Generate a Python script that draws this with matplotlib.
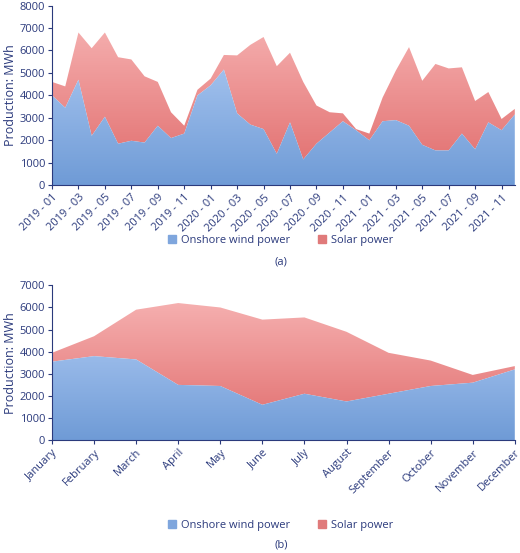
import matplotlib
matplotlib.use("Agg")
import matplotlib.pyplot as plt
import numpy as np
from matplotlib.patches import Patch

plt.rcParams['font.family'] = ['Open Sans', 'DejaVu Sans']
cor_txt = '#2b3a7c'

# dados mensais 2019-2021
meses = [f"{a} - {m:02d}" for a in (2019, 2020, 2021) for m in range(1, 13)]
eolica = [4000, 3450, 4700, 2200, 3050, 1850, 1980, 1900, 2650, 2100, 2300, 4000,
          4450, 5150, 3200, 2700, 2500, 1400, 2800, 1150, 1850, 2350, 2850, 2450,
          2000, 2850, 2900, 2650, 1800, 1550, 1550, 2300, 1600, 2800, 2450, 3150]
total = [4600, 4400, 6800, 6100, 6800, 5700, 5600, 4850, 4600, 3250, 2650, 4250,
         4750, 5800, 5780, 6250, 6600, 5300, 5900, 4600, 3550, 3250, 3200, 2500,
         2300, 3900, 5100, 6150, 4650, 5400, 5200, 5250, 3750, 4150, 2950, 3400]
solar = [t - e for t, e in zip(total, eolica)]

# médias por mês
nomes_mes = ['January', 'February', 'March', 'April', 'May', 'June', 'July',
             'August', 'September', 'October', 'November', 'December']
eolica_media = [3550, 3800, 3650, 2500, 2450, 1600, 2100, 1750, 2100, 2450, 2600, 3200]
total_media = [3950, 4700, 5900, 6200, 6000, 5450, 5550, 4900, 3950, 3600, 2950, 3350]
solar_media = [t - e for t, e in zip(total_media, eolica_media)]


def area_gradiente(ax, x, y0, y1, c_topo, c_base, ymax):
    poly = ax.fill_between(x, y0, y1, color='none', lw=0)
    grad = np.linspace(1, 0, 256).reshape(-1, 1)
    cmap = matplotlib.colors.LinearSegmentedColormap.from_list('g', [c_base, c_topo])
    im = ax.imshow(grad, cmap=cmap, aspect='auto', extent=[x[0], x[-1], 0, ymax],
                   origin='upper', zorder=1)
    im.set_clip_path(poly.get_paths()[0], transform=ax.transData)


def desenha(ax, rotulos, e, s, ymax, passo, y_leg):
    x = np.arange(len(rotulos))
    e = np.array(e)
    t = e + np.array(s)
    area_gradiente(ax, x, e, t, '#f8b8b8', '#e06a6a', ymax)
    area_gradiente(ax, x, 0, e, '#bcd5fa', '#6f9bd6', ymax)
    ax.set_xlim(0, len(x) - 1)
    ax.set_ylim(0, ymax)
    ax.set_yticks(range(0, ymax + 1, 1000))
    ax.set_xticks(x[::passo])
    ax.set_xticklabels(rotulos[::passo], rotation=45, ha='right', rotation_mode='anchor')
    ax.set_ylabel('Production: MWh', color=cor_txt, fontsize=9, labelpad=2)
    ax.tick_params(colors=cor_txt, labelsize=8, length=3, pad=2)
    for lado in ('top', 'right'):
        ax.spines[lado].set_visible(False)
    for lado in ('left', 'bottom'):
        ax.spines[lado].set_color(cor_txt)
    fig.legend(handles=[Patch(color='#7fa6dd', label='Onshore wind power'),
                        Patch(color='#e07a7a', label='Solar power')],
               loc='center', bbox_to_anchor=(0.54, y_leg),
               ncol=2, frameon=False, fontsize=8, handlelength=0.7, handleheight=0.7,
               handletextpad=0.5, labelcolor=cor_txt, columnspacing=2.5)


fig = plt.figure(figsize=(5.2, 5.53), dpi=100)
ax1 = fig.add_axes([0.1, 0.665, 0.89, 0.325])
ax2 = fig.add_axes([0.1, 0.204, 0.89, 0.28])
desenha(ax1, meses, eolica, solar, 8000, 2, 0.565)
desenha(ax2, nomes_mes, eolica_media, solar_media, 7000, 1, 0.05)
fig.text(0.54, 0.526, '(a)', ha='center', va='center', color=cor_txt, fontsize=8)
fig.text(0.54, 0.015, '(b)', ha='center', va='center', color=cor_txt, fontsize=8)
fig.savefig('out.png', dpi=100)
